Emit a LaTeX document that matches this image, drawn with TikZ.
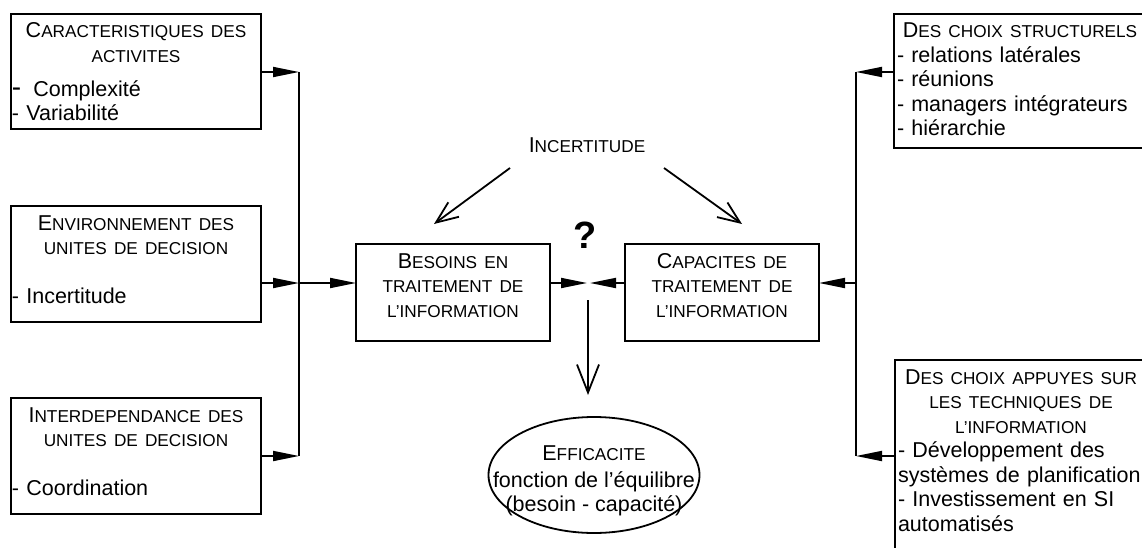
\documentclass[tikz,border=0pt]{standalone}
\usepackage{fontspec}
\setmainfont{Liberation Sans}
\usetikzlibrary{arrows.meta,shapes.geometric}

\newcommand{\smc}[1]{{\fontsize{17.2}{24.5}\selectfont #1}}
\newcommand{\padtop}{\rule{0pt}{17.5pt}}
\newcommand{\padlow}[1]{\rule[-#1]{0pt}{#1}}

\begin{document}
\begin{tikzpicture}[x=1pt,y=-1pt,
  font=\fontsize{21.5}{24.5}\selectfont,
  box/.style={draw,line width=1.8pt,inner xsep=1pt,inner ysep=6.5pt,outer sep=0pt,anchor=north west},
  conn/.style={line width=1.8pt},
  tiparrow/.style={conn,-{Triangle[length=26pt,width=10pt]}},
  barbarrow/.style={conn,-{Straight Barb[length=22pt,width=18pt]}}]
  \useasboundingbox (0,0) rectangle (1142,548);
  \clip (0,0) rectangle (1142,548);
  % left: the three groups of causes
  \node[box,text width=248pt] (carac) at (11,14)
    {\centering\padtop C\smc{ARACTERISTIQUES DES}\\ \smc{ACTIVITES}\par\vspace{9.5pt}
     \raggedright{\fontsize{28}{24.5}\selectfont -}\hspace{12pt}Complexité\\- Variabilité\padlow{1.5pt}};
  \node[box,text width=248pt] (env) at (11,206)
    {\centering\padtop E\smc{NVIRONNEMENT DES}\\ \smc{UNITES DE DECISION}\par\vspace{24.5pt}
     \raggedright - Incertitude\padlow{12pt}};
  \node[box,text width=248pt] (inter) at (11,398)
    {\centering\padtop I\smc{NTERDEPENDANCE DES}\\ \smc{UNITES DE DECISION}\par\vspace{24.5pt}
     \raggedright - Coordination\padlow{12pt}};
  % middle: needs against capacities
  \node[box,text width=192pt,align=center] (besoins) at (356,244)
    {\padtop B\smc{ESOINS EN}\\ \smc{TRAITEMENT DE}\\ \smc{L'INFORMATION}\padlow{17.5pt}};
  \node[box,text width=192pt,align=center] (capac) at (625,244)
    {\padtop C\smc{APACITES DE}\\ \smc{TRAITEMENT DE}\\ \smc{L'INFORMATION}\padlow{17.5pt}};
  \node[anchor=base] (incert) at (587,153) {I\smc{NCERTITUDE}};
  \node[anchor=base,font=\fontsize{38}{38}\selectfont\bfseries] (quest) at (585,248) {?};
  \node[draw,ellipse,line width=1.8pt,minimum width=211pt,minimum height=116pt,inner sep=0pt] (effic) at (594,475) {};
  \node[align=center] (efftxt) at (594,481)
    {E\smc{FFICACITE}\\[2pt]fonction de l'équilibre\\(besoin - capacité)};
  % right: the two kinds of choices
  \node[box,inner xsep=3pt,text width=246pt] (struct) at (894,14)
    {\centering\padtop D\smc{ES CHOIX STRUCTURELS}\par
     \raggedright - relations latérales\\- réunions\\- managers intégrateurs\\- hiérarchie\padlow{5.5pt}};
  \node[box,inner xsep=3pt,text width=246pt] (techn) at (895,360)
    {\centering\padtop D\smc{ES CHOIX APPUYES SUR}\\ \smc{LES TECHNIQUES DE}\\ \smc{L'INFORMATION}\par
     \raggedright - Développement des\\systèmes de planification\\- Investissement en SI\\automatisés\padlow{20pt}};
  % buses
  \coordinate (lt) at (299,72);  \coordinate (lm) at (299,283);  \coordinate (lb) at (299,456);
  \coordinate (rt) at (856,72);  \coordinate (rm) at (856,283);  \coordinate (rb) at (856,456);
  \draw[conn] (lt) -- (lb);
  \draw[conn] (rt) -- (rb);
  \draw[tiparrow] (carac.east |- lt) -- (lt);
  \draw[tiparrow] (env.east |- lm) -- (lm);
  \draw[tiparrow] (inter.east |- lb) -- (lb);
  \draw[tiparrow] (lm) -- (besoins.west |- lm);
  \draw[tiparrow] (struct.west |- rt) -- (rt);
  \draw[tiparrow] (techn.west |- rb) -- (rb);
  \draw[tiparrow] (rm) -- (capac.east |- rm);
  % meeting point and result
  \coordinate (mL) at (587,283); \coordinate (mR) at (590,283);
  \draw[tiparrow] (besoins.east |- mL) -- (mL);
  \draw[tiparrow] (capac.west |- mR) -- (mR);
  \coordinate (dtop) at (588,300); \coordinate (dend) at (588,395);
  \draw[conn,-{Straight Barb[length=28pt,width=22pt]}] (dtop) -- (dend);
  % uncertainty acts on both sides
  \coordinate (iL) at (510,168); \coordinate (hL) at (434,224);
  \coordinate (iR) at (664,168); \coordinate (hR) at (742,224);
  \draw[barbarrow] (iL) -- (hL);
  \draw[barbarrow] (iR) -- (hR);
\end{tikzpicture}
\end{document}
